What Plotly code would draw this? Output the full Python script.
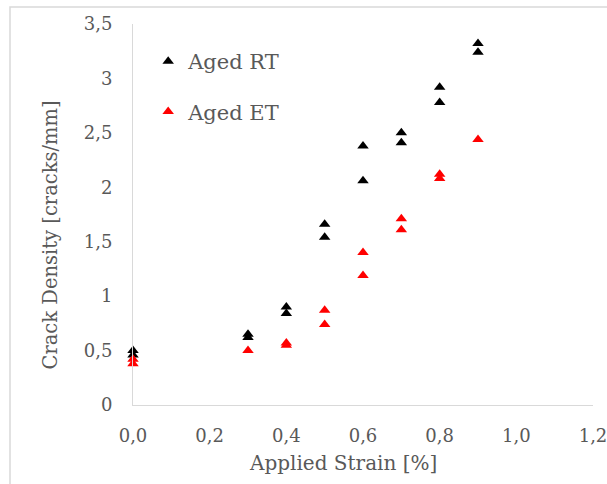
import plotly.graph_objects as go

strain_rt = [0.0, 0.0, 0.3, 0.3, 0.4, 0.4, 0.5, 0.5, 0.6, 0.6, 0.7, 0.7, 0.8, 0.8, 0.9, 0.9]
density_rt = [0.50, 0.46, 0.65, 0.62, 0.90, 0.84, 1.66, 1.54, 2.38, 2.06, 2.50, 2.41, 2.92, 2.78, 3.32, 3.24]

strain_et = [0.0, 0.0, 0.3, 0.4, 0.4, 0.5, 0.5, 0.6, 0.6, 0.7, 0.7, 0.8, 0.8, 0.9]
density_et = [0.42, 0.38, 0.50, 0.57, 0.55, 0.87, 0.74, 1.40, 1.19, 1.71, 1.61, 2.12, 2.08, 2.44]

x_ticks = [0.0, 0.2, 0.4, 0.6, 0.8, 1.0, 1.2]
y_ticks = [0, 0.5, 1, 1.5, 2, 2.5, 3, 3.5]

x_title = "Applied Strain [%]"
y_title = "Crack Density [cracks/mm]"

FONT = "DejaVu Serif"
GRAY = "#595959"
LINE = "#D9D9D9"

fig = go.Figure()
fig.add_trace(go.Scatter(x=strain_rt, y=density_rt, mode="markers", name="Aged RT",
                         legendgroup="rt",
                         marker=dict(symbol="triangle-up", size=10, color="#000000"),
                         cliponaxis=False))
fig.add_trace(go.Scatter(x=strain_et, y=density_et, mode="markers", name="Aged ET",
                         legendgroup="et",
                         marker=dict(symbol="triangle-up", size=10, color="#FF0000"),
                         cliponaxis=False))

fig.update_layout(
    width=607, height=484,
    margin=dict(l=133, r=14, t=24, b=79, autoexpand=False),
    paper_bgcolor="white", plot_bgcolor="white",
    separators=",.",
    font=dict(family=FONT, color=GRAY, size=18),
    showlegend=True,
    legend=dict(x=0.033, y=0.955, xanchor="left", yanchor="top",
                font=dict(family=FONT, size=21, color=GRAY),
                bgcolor="rgba(0,0,0,0)", tracegroupgap=20),
    xaxis=dict(range=[0, 1.2], tickvals=x_ticks, tickformat=".1f",
               showgrid=False, zeroline=False, showline=True, linecolor=LINE, linewidth=1,
               ticks="", ticklabelstandoff=14, ticklabeloverflow="allow", automargin=False,
               tickfont=dict(family=FONT, size=18, color=GRAY)),
    yaxis=dict(range=[0, 3.5], tickvals=y_ticks,
               showgrid=False, zeroline=False, showline=True, linecolor=LINE, linewidth=1,
               ticks="", ticklabelstandoff=16, ticklabeloverflow="allow", automargin=False,
               tickfont=dict(family=FONT, size=18, color=GRAY)),
    annotations=[
        dict(text=x_title, xref="paper", yref="paper",
             x=(342.5 - 133) / 460, y=(405 - 463) / 381,
             xanchor="center", yanchor="middle", showarrow=False,
             font=dict(family=FONT, size=20, color=GRAY)),
        dict(text=y_title, xref="paper", yref="paper", textangle=-90,
             x=(50 - 133) / 460, y=(405 - 235.5) / 381,
             xanchor="center", yanchor="middle", showarrow=False,
             font=dict(family=FONT, size=19.5, color=GRAY)),
    ],
    shapes=[dict(type="rect", xref="paper", yref="paper",
                 x0=(10 - 133) / 460, x1=1.5, y0=-0.5, y1=1 + (24 - 7) / 381,
                 line=dict(color=LINE, width=1.5), fillcolor="rgba(0,0,0,0)", layer="below")],
)

fig.write_html("out.html")
